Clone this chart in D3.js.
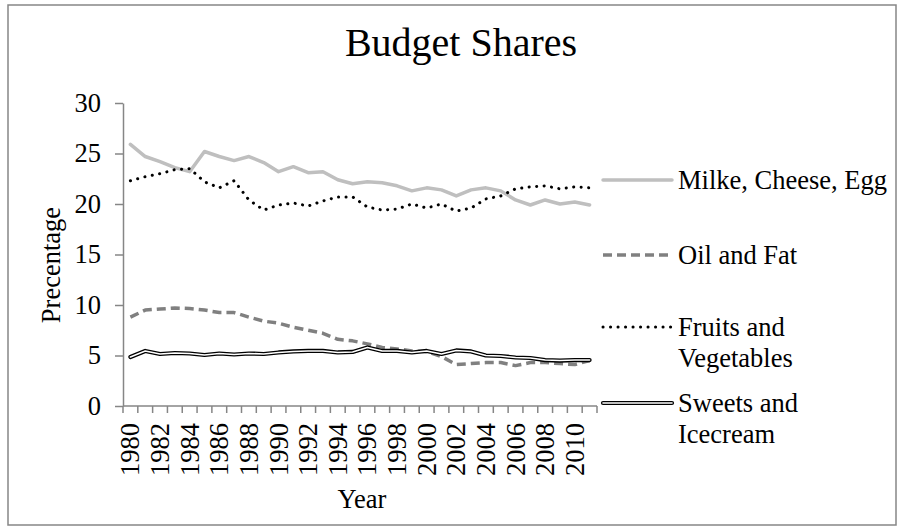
<!DOCTYPE html>
<html>
<head>
<meta charset="UTF-8">
<title>Budget Shares</title>
<style>
  body { margin: 0; background: #fff; }
  svg text { font-family: "Liberation Serif", "Times New Roman", serif; fill: #000; }
  .axis path, .axis line { stroke: #868686; stroke-width: 1.5; }
  .axis text { font-size: 26.5px; }
</style>
</head>
<body>
<svg width="903" height="531"></svg>
<script src="https://cdnjs.cloudflare.com/ajax/libs/d3/7.8.5/d3.min.js"></script>
<script>
// data
const years = d3.range(1980, 2012);
const milk = [25.9, 24.7, 24.2, 23.6, 23.2, 25.2, 24.7, 24.3, 24.7, 24.1, 23.2, 23.7, 23.1, 23.2, 22.4, 22.0,
              22.2, 22.1, 21.8, 21.3, 21.6, 21.4, 20.8, 21.4, 21.6, 21.3, 20.4, 19.9, 20.4, 20.0, 20.2, 19.9];
const oil = [8.8, 9.5, 9.6, 9.7, 9.65, 9.5, 9.25, 9.25, 8.8, 8.4, 8.2, 7.8, 7.5, 7.2, 6.6, 6.45,
             6.15, 5.8, 5.65, 5.45, 5.4, 4.9, 4.1, 4.2, 4.3, 4.3, 4.0, 4.3, 4.3, 4.2, 4.1, 4.5];
const fruits = [22.3, 22.7, 23.0, 23.4, 23.5, 22.2, 21.6, 22.3, 20.4, 19.4, 19.9, 20.1, 19.8, 20.3, 20.7, 20.7,
                19.7, 19.4, 19.5, 20.0, 19.6, 20.0, 19.3, 19.6, 20.5, 20.8, 21.5, 21.7, 21.8, 21.5, 21.7, 21.6];
const sweets = [4.85, 5.45, 5.15, 5.25, 5.2, 5.05, 5.2, 5.1, 5.2, 5.15, 5.3, 5.4, 5.45, 5.45, 5.3, 5.35,
                5.8, 5.45, 5.45, 5.3, 5.45, 5.15, 5.5, 5.4, 5.0, 4.95, 4.8, 4.75, 4.55, 4.5, 4.55, 4.55];
const seriesNames = ['Milke, Cheese, Egg', 'Oil and Fat', 'Fruits and Vegetables', 'Sweets and Icecream'];
const legendLines = [['Milke, Cheese, Egg'], ['Oil and Fat'], ['Fruits and', 'Vegetables'], ['Sweets and', 'Icecream']];
const yTicks = [0, 5, 10, 15, 20, 25, 30];
const xLabelYears = years.filter(y => y % 2 === 0);

const svg = d3.select('svg');

// outer chart border
svg.append('rect')
    .attr('x', 8).attr('y', 5)
    .attr('width', 888).attr('height', 520)
    .attr('fill', 'none')
    .attr('stroke', '#868686')
    .attr('stroke-width', 1.5);

const x = d3.scaleBand().domain(years).range([123, 597]);
const y = d3.scaleLinear().domain([0, 30]).range([406, 103]);
const cx = d => x(d) + x.bandwidth() / 2;

// title
svg.append('text')
    .attr('x', 461).attr('y', 56)
    .attr('text-anchor', 'middle')
    .style('font-size', '40px')
    .text('Budget Shares');

// y axis
svg.append('g')
    .attr('class', 'axis')
    .attr('transform', 'translate(123,0)')
    .call(d3.axisLeft(y).tickValues(yTicks).tickSize(8).tickPadding(14).tickSizeOuter(0));

// x axis: line + ticks on category boundaries + rotated labels every other year
const xg = svg.append('g').attr('class', 'axis');
xg.append('line')
    .attr('x1', x.range()[0]).attr('x2', x.range()[1])
    .attr('y1', y(0)).attr('y2', y(0));
xg.selectAll('line.tick')
    .data(years.map(d => x(d)).concat([x.range()[1]]))
    .enter().append('line')
    .attr('class', 'tick')
    .attr('x1', d => d).attr('x2', d => d)
    .attr('y1', y(0)).attr('y2', y(0) + 7);
xg.selectAll('text')
    .data(xLabelYears)
    .enter().append('text')
    .attr('transform', d => `translate(${cx(d)},${y(0) + 17}) rotate(-90)`)
    .attr('text-anchor', 'end')
    .attr('dy', '0.34em')
    .text(d => d);

// axis titles
svg.append('text')
    .attr('transform', 'translate(60,265) rotate(-90)')
    .attr('text-anchor', 'middle')
    .style('font-size', '26.5px')
    .text('Precentage');
svg.append('text')
    .attr('x', 362).attr('y', 508)
    .attr('text-anchor', 'middle')
    .style('font-size', '26.5px')
    .text('Year');

// line styles
const styles = [
    { color: '#bfbfbf', width: 3.5, dash: null, cap: 'round' },
    { color: '#808080', width: 3.5, dash: '9,5', cap: 'butt' },
    { color: '#000', width: 3, dash: '0.1,7.4', cap: 'round' },
    { color: 'double', width: 4, dash: null, cap: 'round' }
];
const allSeries = [milk, oil, fruits, sweets];

const line = d3.line()
    .x((d, i) => cx(years[i]))
    .y(d => y(d));

function drawLine(sel, s, pathFn) {
    if (s.color === 'double') {
        sel.append('path').attr('d', pathFn).attr('fill', 'none')
            .attr('stroke', '#000').attr('stroke-width', 4.2)
            .attr('stroke-linejoin', 'round').attr('stroke-linecap', 'round');
        sel.append('path').attr('d', pathFn).attr('fill', 'none')
            .attr('stroke', '#fff').attr('stroke-width', 1.6)
            .attr('stroke-linejoin', 'round').attr('stroke-linecap', 'round');
    } else {
        sel.append('path').attr('d', pathFn).attr('fill', 'none')
            .attr('stroke', s.color).attr('stroke-width', s.width)
            .attr('stroke-dasharray', s.dash)
            .attr('stroke-linejoin', 'round').attr('stroke-linecap', s.cap);
    }
}

const plot = svg.append('g');
allSeries.forEach((vals, i) => {
    drawLine(plot.append('g').attr('class', 'series').attr('data-name', seriesNames[i]), styles[i], line(vals));
});

// legend
const legendY = [180, 255, 327, 403];
const legend = svg.append('g');
legendLines.forEach((lines, i) => {
    const g = legend.append('g');
    drawLine(g, styles[i], `M603,${legendY[i]}L672,${legendY[i]}`);
    lines.forEach((t, j) => {
        g.append('text')
            .attr('x', 678).attr('y', legendY[i] + 9 + j * 31)
            .style('font-size', '26.5px')
            .text(t);
    });
});
</script>
</body>
</html>
